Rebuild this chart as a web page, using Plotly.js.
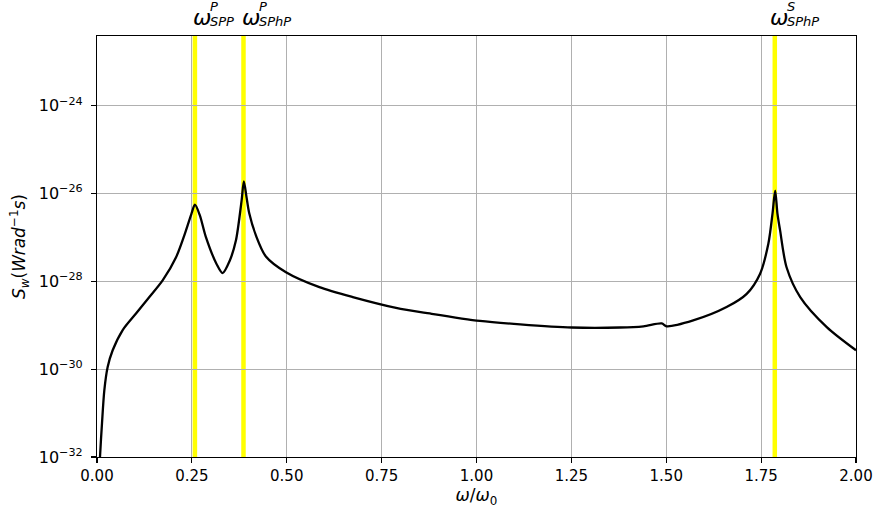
<!DOCTYPE html>
<html>
<head>
<meta charset="utf-8">
<script src="https://cdn.plot.ly/plotly-3.0.1.min.js"></script>
<style>html,body{margin:0;padding:0;background:#fff;}#chart{width:880px;height:512px;}</style>
</head>
<body>
<div id="chart"></div>
<script>
// frequency ratio omega/omega_0
const omega = [0.006, 0.0079, 0.0132, 0.0193, 0.0281, 0.0413, 0.0677, 0.1028, 0.138, 0.173, 0.208, 0.2345, 0.249, 0.258, 0.271, 0.287, 0.315, 0.331, 0.350, 0.366, 0.381, 0.387, 0.394, 0.401, 0.419, 0.445, 0.498, 0.586, 0.674, 0.788, 0.877, 1.009, 1.115, 1.251, 1.378, 1.440, 1.488, 1.501, 1.571, 1.659, 1.712, 1.747, 1.769, 1.780, 1.787, 1.793, 1.800, 1.817, 1.853, 1.923, 2.0];
// spectral density S_w (W rad^-1 s)
const Sw = [3.2e-33, 1.0e-32, 5.9e-32, 3.3e-31, 1.12e-30, 2.7e-30, 7.8e-30, 1.86e-29, 4.4e-29, 1.05e-28, 3.5e-28, 1.45e-27, 3.5e-27, 5.6e-27, 3.2e-27, 1.02e-27, 2.5e-28, 1.55e-28, 3.0e-28, 8.5e-28, 6.9e-27, 1.9e-26, 8.3e-27, 3.6e-27, 1.1e-27, 3.7e-28, 1.62e-28, 7.4e-29, 4.4e-29, 2.5e-29, 1.86e-29, 1.26e-29, 1.05e-29, 8.9e-30, 8.9e-30, 9.5e-30, 1.1e-29, 9.5e-30, 1.29e-29, 2.6e-29, 5.2e-29, 1.48e-28, 7.2e-28, 3.5e-27, 1.17e-26, 3.5e-27, 1.45e-27, 2.1e-28, 4.4e-29, 9.1e-30, 2.7e-30];
// resonance markers
const resonanceX = [0.258, 0.386, 1.786];
const resonanceSup = ["P", "P", "S"];
const resonanceSub = ["SPP", "SPhP", "SPhP"];
// ticks
const xTicks = [0, 0.25, 0.5, 0.75, 1.0, 1.25, 1.5, 1.75, 2.0];
const xTickText = ["0.00", "0.25", "0.50", "0.75", "1.00", "1.25", "1.50", "1.75", "2.00"];
const yTicks = [1e-32, 1e-30, 1e-28, 1e-26, 1e-24];
const yTickText = ["10<sup>−32</sup>", "10<sup>−30</sup>", "10<sup>−28</sup>", "10<sup>−26</sup>", "10<sup>−24</sup>"];

const FONT = "DejaVu Sans, sans-serif";
const omegaShift = [-3, -2, -6];

const shapes = resonanceX.map(v => ({
  type: "line", xref: "x", yref: "paper", x0: v, x1: v, y0: 0, y1: 1,
  line: {color: "#ffff00", width: 4.5}, layer: "between"
}));

const annotations = [];
resonanceX.forEach((v, i) => {
  annotations.push({xref: "x", yref: "paper", x: v, y: 1, xanchor: "left", yanchor: "bottom",
    xshift: omegaShift[i] - 1, yshift: 4, showarrow: false, text: "<i>ω</i>",
    font: {family: FONT, size: 22, color: "#000"}});
  annotations.push({xref: "x", yref: "paper", x: v, y: 1, xanchor: "left", yanchor: "bottom",
    xshift: omegaShift[i] + 16, yshift: 20, showarrow: false, text: "<i>" + resonanceSup[i] + "</i>",
    font: {family: FONT, size: 13, color: "#000"}});
  annotations.push({xref: "x", yref: "paper", x: v, y: 1, xanchor: "left", yanchor: "bottom",
    xshift: omegaShift[i] + 16, yshift: 5, showarrow: false, text: "<i>" + resonanceSub[i] + "</i>",
    font: {family: FONT, size: 13, color: "#000"}});
});

const data = [{
  x: omega, y: Sw, type: "scatter", mode: "lines",
  line: {color: "#000", width: 2.3, shape: "spline", smoothing: 0.8},
  hoverinfo: "skip", cliponaxis: true
}];

const layout = {
  width: 880, height: 512,
  margin: {l: 97, r: 24, t: 36, b: 55, pad: 0},
  paper_bgcolor: "#fff", plot_bgcolor: "#fff",
  font: {family: FONT, size: 14, color: "#000"},
  showlegend: false,
  xaxis: {
    range: [0, 2], tickvals: xTicks, ticktext: xTickText,
    showgrid: true, gridcolor: "#b0b0b0", gridwidth: 1.1,
    zeroline: false, showline: true, linecolor: "#000", linewidth: 1.1, mirror: true,
    ticks: "outside", ticklen: 5, tickwidth: 1.1, tickcolor: "#000",
    tickfont: {family: FONT, size: 15, color: "#000"},
    title: {text: "<i>ω</i>/<i>ω</i><sub>0</sub>", font: {family: FONT, size: 17, color: "#000"}, standoff: 4}
  },
  yaxis: {
    type: "log", range: [-32, -22.41], tickvals: yTicks, ticktext: yTickText,
    showgrid: true, gridcolor: "#b0b0b0", gridwidth: 1.1,
    zeroline: false, showline: true, linecolor: "#000", linewidth: 1.1, mirror: true,
    ticks: "outside", ticklen: 5, tickwidth: 1.1, tickcolor: "#000", ticklabelstandoff: 5,
    tickfont: {family: FONT, size: 16, color: "#000"},
    title: {text: "<i>S</i><sub><i>w</i></sub>(<i>Wrad</i><sup>−1</sup><i>s</i>)", font: {family: FONT, size: 17, color: "#000"}, standoff: 8}
  },
  shapes: shapes,
  annotations: annotations
};

Plotly.newPlot("chart", data, layout, {staticPlot: true, displayModeBar: false});
</script>
</body>
</html>
